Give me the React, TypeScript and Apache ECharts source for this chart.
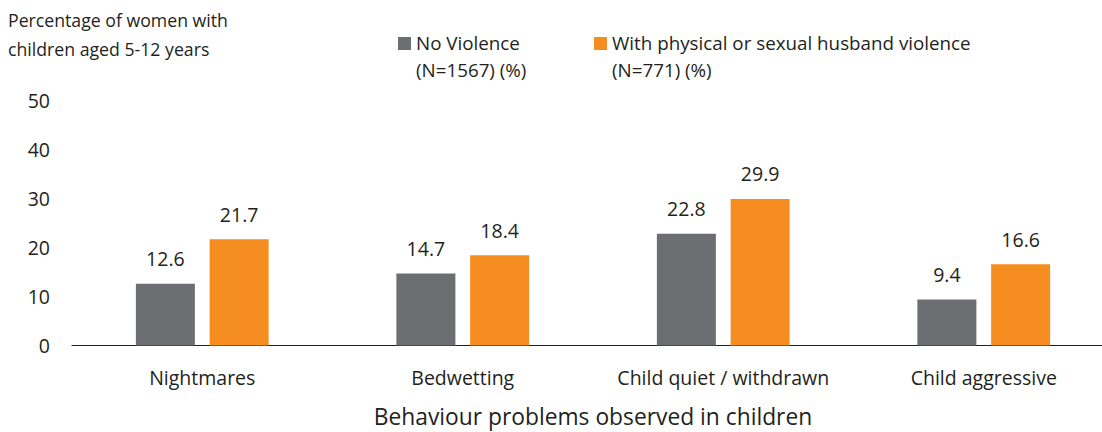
import React, { useEffect, useRef } from "react";
import * as echarts from "echarts";

const categories = ["Nightmares", "Bedwetting", "Child quiet / withdrawn", "Child aggressive"];
const noViolence = [12.6, 14.7, 22.8, 9.4];
const withViolence = [21.7, 18.4, 29.9, 16.6];
const seriesNames = [
  "No Violence (N=1567) (%)",
  "With physical or sexual husband violence (N=771) (%)",
];
const yTicks = [0, 10, 20, 30, 40, 50];

const GRAY = "#6D6E71";
const ORANGE = "#F68D20";
const TEXT = "#231F20";
const FONT = "'Open Sans', 'Noto Sans', sans-serif";

export default function App() {
  const ref = useRef<HTMLDivElement>(null);
  useEffect(() => {
    if (!ref.current) return;
    const chart = echarts.init(ref.current, undefined, { renderer: "svg" });
    const label = {
      show: true,
      position: "top",
      distance: 15,
      fontSize: 19.5,
      color: TEXT,
      fontFamily: FONT,
      formatter: (p: any) => p.value.toFixed(1),
    };
    chart.setOption({
      animation: false,
      textStyle: { fontFamily: FONT },
      grid: {
        left: 72,
        width: 1042,
        top: 100.5,
        height: 245,
        containLabel: false,
        outerBoundsMode: "none",
      },
      xAxis: {
        type: "category",
        data: categories,
        axisLine: { show: true, lineStyle: { color: "#231F20", width: 1.2 } },
        axisTick: { show: false },
        axisLabel: { interval: 0, fontSize: 19.5, color: TEXT, margin: 22, fontFamily: FONT },
        name: "Behaviour problems observed in children",
        nameLocation: "middle",
        nameGap: 59,
        nameTextStyle: { fontSize: 22.8, lineHeight: 24, color: TEXT, fontFamily: FONT },
      },
      yAxis: {
        type: "value",
        min: yTicks[0],
        max: yTicks[yTicks.length - 1],
        interval: 10,
        axisLine: { show: false },
        axisTick: { show: false },
        splitLine: { show: false },
        axisLabel: { fontSize: 19.5, color: TEXT, margin: 22, fontFamily: FONT },
      },
      series: [
        {
          name: seriesNames[0],
          type: "bar",
          data: noViolence,
          barWidth: 59,
          barGap: "25%",
          itemStyle: { color: GRAY },
          label,
        },
        {
          name: seriesNames[1],
          type: "bar",
          data: withViolence,
          barWidth: 59,
          itemStyle: { color: ORANGE },
          label,
        },
      ],
      graphic: [
        {
          type: "text",
          left: 8,
          top: 5,
          style: {
            text: "Percentage of women with\nchildren aged 5-12 years",
            fontSize: 17.7,
            lineHeight: 29,
            fill: TEXT,
            fontFamily: FONT,
          },
        },
        { type: "rect", shape: { x: 398, y: 37, width: 13, height: 13 }, style: { fill: GRAY } },
        {
          type: "text",
          left: 416,
          top: 29,
          style: {
            text: "No Violence\n(N=1567) (%)",
            fontSize: 18.8,
            lineHeight: 27,
            fill: TEXT,
            fontFamily: FONT,
          },
        },
        { type: "rect", shape: { x: 594, y: 37, width: 13, height: 13 }, style: { fill: ORANGE } },
        {
          type: "text",
          left: 612,
          top: 29,
          style: {
            text: "With physical or sexual husband violence\n(N=771) (%)",
            fontSize: 18.8,
            lineHeight: 27,
            fill: TEXT,
            fontFamily: FONT,
          },
        },
      ],
    });
    return () => chart.dispose();
  }, []);
  return <div ref={ref} style={{ width: 1102, height: 432, position: "absolute", left: 0, top: 0 }} />;
}
